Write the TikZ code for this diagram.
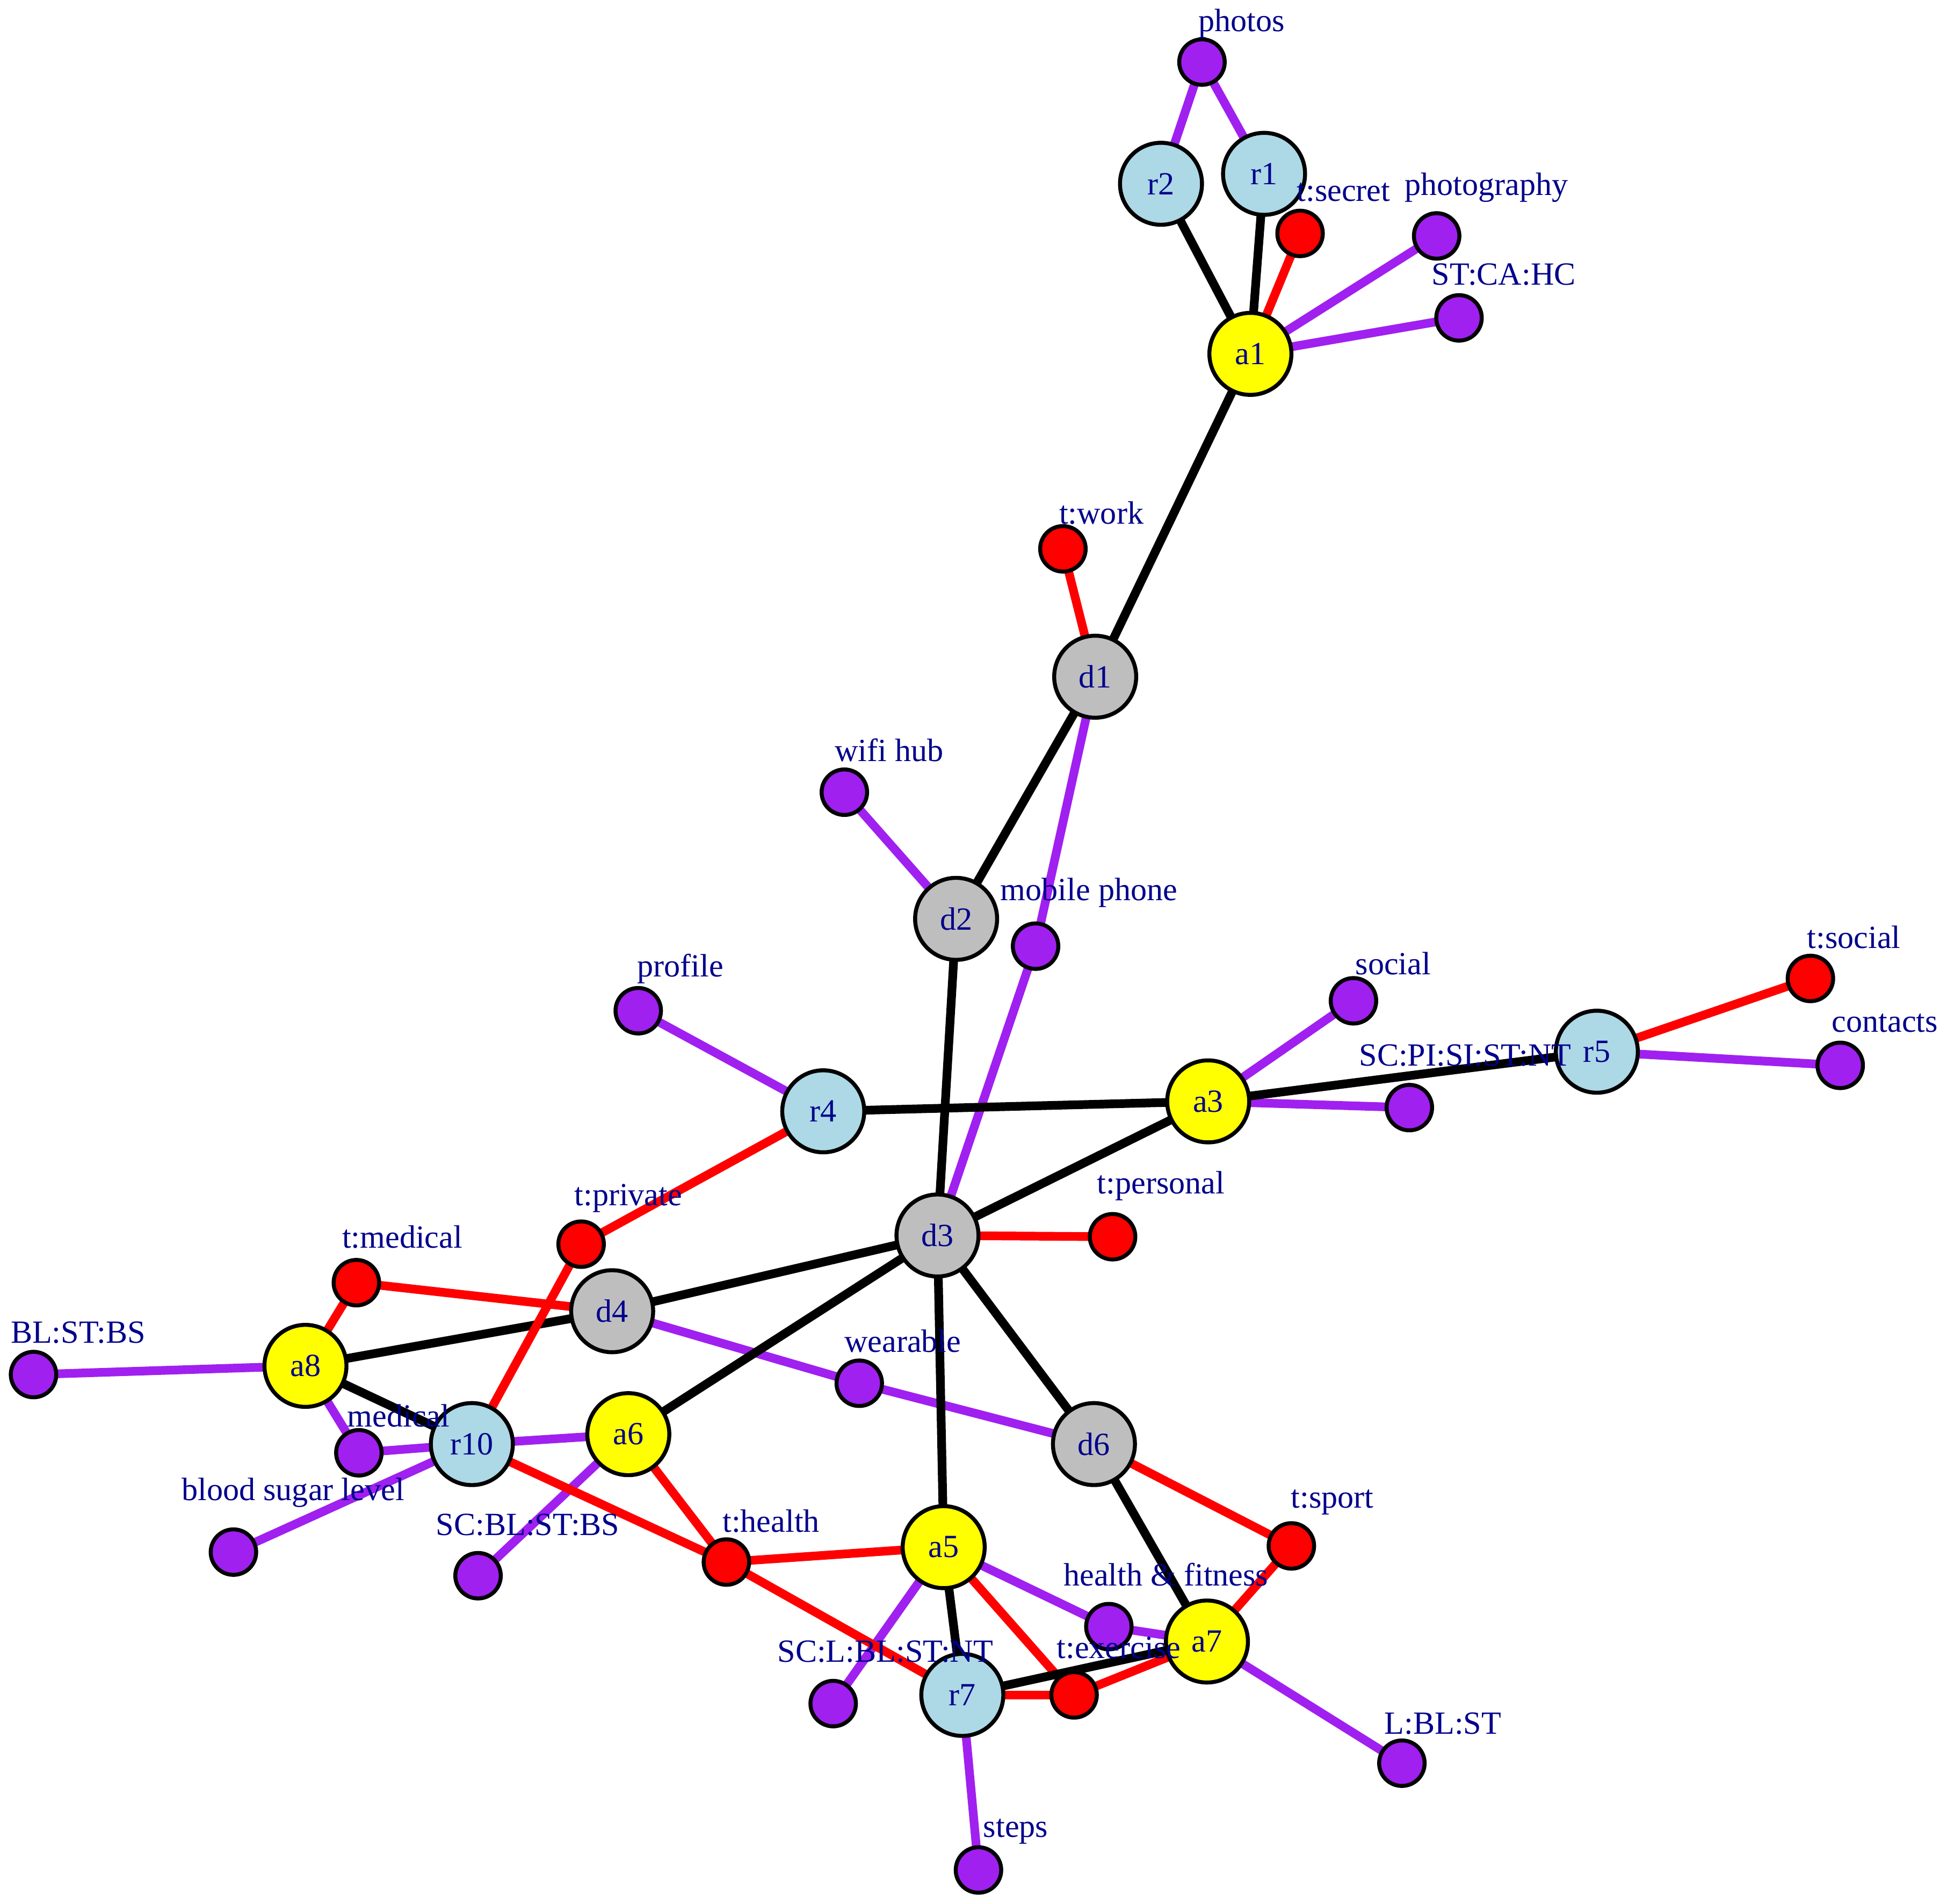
\documentclass[tikz,border=0pt]{standalone}
\usepackage{fontspec}
\setmainfont{Liberation Serif}
\definecolor{lbl}{HTML}{00008B}
\definecolor{pur}{HTML}{A020F0}
\definecolor{lb}{HTML}{ADD8E6}
\definecolor{gy}{HTML}{BEBEBE}
\definecolor{yl}{HTML}{FFFF00}
\definecolor{rd}{HTML}{FF0000}
\pgfdeclarelayer{edges}
\pgfsetlayers{edges,main}
\begin{document}
\begin{tikzpicture}[x=0.01cm,y=-0.01cm,
  font=\fontsize{7.4}{9}\selectfont,
  big/.style={circle,draw=black,line width=0.032cm,minimum size=0.66cm,inner sep=0pt,text=lbl},
  sm/.style={circle,draw=black,line width=0.032cm,minimum size=0.366cm,inner sep=0pt},
  ps/.style={sm,fill=pur},
  rs/.style={sm,fill=rd},
  lab/.style={text=lbl,inner sep=0pt},
  ke/.style={line width=0.07cm,black},
  re/.style={line width=0.07cm,rd},
  pe/.style={line width=0.07cm,pur}]
\useasboundingbox (0,0) rectangle (1568,1533);
% large nodes
\node[big,fill=lb] (r2) at (935,148) {r2};
\node[big,fill=lb] (r1) at (1018,140) {r1};
\node[big,fill=yl] (a1) at (1007,285) {a1};
\node[big,fill=gy] (d1) at (882,545) {d1};
\node[big,fill=gy] (d2) at (770,740) {d2};
\node[big,fill=lb] (r4) at (663,895) {r4};
\node[big,fill=yl] (a3) at (973,887) {a3};
\node[big,fill=lb] (r5) at (1286,847) {r5};
\node[big,fill=gy] (d3) at (755,995) {d3};
\node[big,fill=gy] (d4) at (493,1056) {d4};
\node[big,fill=yl] (a8) at (246,1100) {a8};
\node[big,fill=lb] (r10) at (380,1163) {r10};
\node[big,fill=yl] (a6) at (506,1155) {a6};
\node[big,fill=gy] (d6) at (881,1163) {d6};
\node[big,fill=yl] (a5) at (760,1246) {a5};
\node[big,fill=yl] (a7) at (972,1322) {a7};
\node[big,fill=lb] (r7) at (775,1365) {r7};
% small nodes
\node[ps] (pPhotos) at (968,50) {};
\node[rs] (tSecret) at (1047,188) {};
\node[ps] (pPhotography) at (1157,190) {};
\node[ps] (pSTCAHC) at (1175,256) {};
\node[rs] (tWork) at (856,442) {};
\node[ps] (pWifi) at (680,638) {};
\node[ps] (pMobile) at (834,762) {};
\node[ps] (pProfile) at (514,814) {};
\node[ps] (pSocial) at (1090,806) {};
\node[rs] (tSocial) at (1458,788) {};
\node[ps] (pContacts) at (1482,858) {};
\node[ps] (pSCPI) at (1135,892) {};
\node[rs] (tPersonal) at (896,996) {};
\node[rs] (tPrivate) at (468,1002) {};
\node[rs] (tMedical) at (287,1033) {};
\node[ps] (pBLSTBS) at (27,1107) {};
\node[ps] (pMedical) at (289,1170) {};
\node[ps] (pWearable) at (692,1114) {};
\node[ps] (pBlood) at (188,1250) {};
\node[ps] (pSCBL) at (385,1269) {};
\node[rs] (tHealth) at (585,1258) {};
\node[rs] (tSport) at (1040,1245) {};
\node[ps] (pHealthFit) at (893,1310) {};
\node[rs] (tExercise) at (865,1365) {};
\node[ps] (pSCL) at (671,1372) {};
\node[ps] (pLBLST) at (1129,1420) {};
\node[ps] (pSteps) at (788,1506) {};
% edges
\begin{pgfonlayer}{edges}
\draw[pe] (pPhotos.center) -- (r2.center);
\draw[pe] (pPhotos.center) -- (r1.center);
\draw[pe] (a1.center) -- (pPhotography.center);
\draw[pe] (a1.center) -- (pSTCAHC.center);
\draw[pe] (d2.center) -- (pWifi.center);
\draw[pe] (d1.center) -- (pMobile.center);
\draw[pe] (pMobile.center) -- (d3.center);
\draw[pe] (r4.center) -- (pProfile.center);
\draw[pe] (a3.center) -- (pSocial.center);
\draw[pe] (r5.center) -- (pContacts.center);
\draw[pe] (a3.center) -- (pSCPI.center);
\draw[pe] (a8.center) -- (pBLSTBS.center);
\draw[pe] (a8.center) -- (pMedical.center);
\draw[pe] (pMedical.center) -- (r10.center);
\draw[pe] (r10.center) -- (a6.center);
\draw[pe] (r10.center) -- (pBlood.center);
\draw[pe] (a6.center) -- (pSCBL.center);
\draw[pe] (d4.center) -- (pWearable.center);
\draw[pe] (pWearable.center) -- (d6.center);
\draw[pe] (a5.center) -- (pHealthFit.center);
\draw[pe] (pHealthFit.center) -- (a7.center);
\draw[pe] (a5.center) -- (pSCL.center);
\draw[pe] (a7.center) -- (pLBLST.center);
\draw[pe] (r7.center) -- (pSteps.center);
\draw[re] (a1.center) -- (tSecret.center);
\draw[re] (d1.center) -- (tWork.center);
\draw[re] (r5.center) -- (tSocial.center);
\draw[re] (d3.center) -- (tPersonal.center);
\draw[re] (r4.center) -- (tPrivate.center);
\draw[re] (tMedical.center) -- (a8.center);
\draw[re] (tMedical.center) -- (d4.center);
\draw[re] (a6.center) -- (tHealth.center);
\draw[re] (tHealth.center) -- (a5.center);
\draw[re] (r10.center) -- (tHealth.center);
\draw[re] (tHealth.center) -- (r7.center);
\draw[re] (d6.center) -- (tSport.center);
\draw[re] (tSport.center) -- (a7.center);
\draw[re] (a5.center) -- (tExercise.center);
\draw[re] (r7.center) -- (tExercise.center);
\draw[re] (tExercise.center) -- (a7.center);
\draw[ke] (r2.center) -- (a1.center);
\draw[ke] (r1.center) -- (a1.center);
\draw[ke] (a1.center) -- (d1.center);
\draw[ke] (d1.center) -- (d2.center);
\draw[ke] (d2.center) -- (d3.center);
\draw[ke] (r4.center) -- (a3.center);
\draw[ke] (a3.center) -- (r5.center);
\draw[ke] (a3.center) -- (d3.center);
\draw[ke] (d3.center) -- (d4.center);
\draw[ke] (d4.center) -- (a8.center);
\draw[ke] (a8.center) -- (r10.center);
\draw[ke] (d3.center) -- (a6.center);
\draw[ke] (d3.center) -- (d6.center);
\draw[ke] (d3.center) -- (a5.center);
\draw[ke] (d6.center) -- (a7.center);
\draw[ke] (a5.center) -- (r7.center);
\draw[ke] (r7.center) -- (a7.center);
\draw[re] (tPrivate.center) -- (r10.center);
\end{pgfonlayer}
% labels
\node[lab] (lPhotos) at (1000,19) {photos};
\node[lab] (lSecret) at (1082,155) {t:secret};
\node[lab] (lPhotography) at (1197,151) {photography};
\node[lab] (lSTCAHC) at (1211,221) {ST:CA:HC};
\node[lab] (lWork) at (887,413) {t:work};
\node[lab] (lWifi) at (716,604) {wifi hub};
\node[lab] (lMobile) at (877,719) {mobile phone};
\node[lab] (lProfile) at (548,780) {profile};
\node[lab] (lSocial) at (1122,776) {social};
\node[lab] (lTSocial) at (1493,755) {t:social};
\node[lab] (lContacts) at (1518,824) {contacts};
\node[lab] (lSCPI) at (1180,850) {SC:PI:SI:ST:NT};
\node[lab] (lPersonal) at (935,955) {t:personal};
\node[lab] (lPrivate) at (506,965) {t:private};
\node[lab] (lTMedical) at (324,996) {t:medical};
\node[lab] (lBLSTBS) at (63,1073) {BL:ST:BS};
\node[lab] (lMedical) at (321,1140) {medical};
\node[lab] (lWearable) at (727,1080) {wearable};
\node[lab] (lBlood) at (236,1202) {blood sugar level};
\node[lab] (lSCBL) at (425,1228) {SC:BL:ST:BS};
\node[lab] (lHealth) at (621,1225) {t:health};
\node[lab] (lSport) at (1073,1210) {t:sport};
\node[lab] (lHealthFit) at (939,1268) {health \& fitness};
\node[lab] (lExercise) at (901,1327) {t:exercise};
\node[lab] (lSCL) at (713,1330) {SC:L:BL:ST:NT};
\node[lab] (lLBLST) at (1162,1388) {L:BL:ST};
\node[lab] (lSteps) at (818,1475) {steps};
\end{tikzpicture}
\end{document}
